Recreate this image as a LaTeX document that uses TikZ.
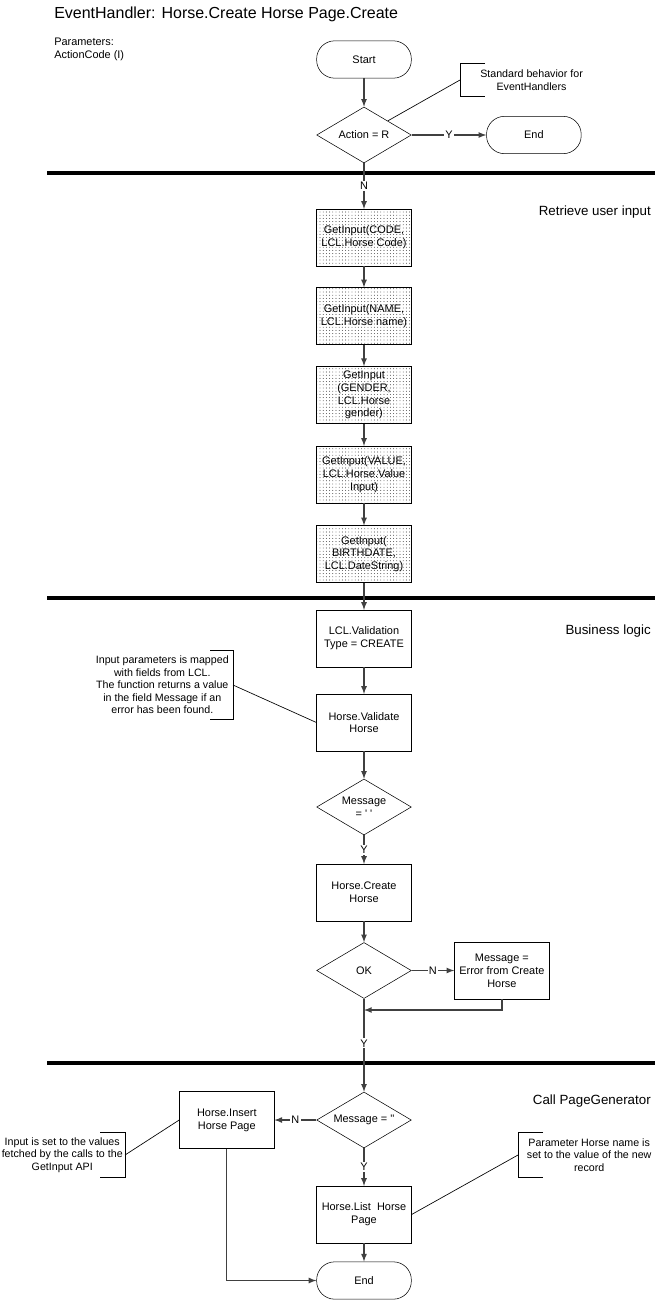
\documentclass[tikz,border=0pt]{standalone}
\usepackage{fontspec}
\setmainfont{Liberation Sans}
\usetikzlibrary{shapes.geometric, arrows, positioning, patterns}
\newcommand\smalltxt{\fontsize{8.2pt}{9.6pt}\selectfont}
\newcommand\notetxt{\fontsize{8pt}{9.4pt}\selectfont}
\newcommand\sectiontxt{\fontsize{10pt}{12pt}\selectfont}
\newcommand\titletxt{\fontsize{12pt}{14pt}\selectfont}
\pgfdeclarepatternformonly{finedots}{\pgfpoint{-0.5pt}{-0.5pt}}{\pgfpoint{0.5pt}{0.5pt}}{\pgfpoint{2.4pt}{2.4pt}}{%
  \pgfpathcircle{\pgfpointorigin}{0.32pt}\pgfusepath{fill}}
\tikzstyle{terminal} = [rectangle, rounded corners=13.5pt, minimum width=71pt, minimum height=28pt, text centered, draw=black, fill=white]
\tikzstyle{process} = [rectangle, minimum width=71pt, minimum height=42.5pt, inner xsep=2pt, align=center, draw=black, fill=white]
\tikzstyle{inputbox} = [rectangle, minimum width=71pt, minimum height=42.5pt, inner xsep=2pt, align=center, draw=black, pattern=finedots]
\tikzstyle{decision} = [diamond, shape aspect=1.7, minimum width=71pt, minimum height=42pt, inner sep=0pt, align=center, draw=black, fill=white]
\tikzstyle{note} = [align=center, minimum height=33pt, font=\notetxt]
\tikzstyle{section} = [anchor=east, inner sep=0pt, font=\sectiontxt]
\tikzstyle{sepline} = [line width=3pt]
\tikzstyle{noteline} = [line width=0.5pt]
\tikzstyle{lbl} = [fill=white, inner sep=1pt]
\tikzstyle{arrow} = [line width=1pt, draw=black!75, ->, >=latex]

\begin{document}
\begin{tikzpicture}[x=0.75pt, y=-0.75pt, font=\smalltxt]
    \useasboundingbox (0,0) rectangle (655,1300);

    % Headings
    \node (title) [anchor=west, inner sep=0pt, font=\titletxt] at (54,14) {EventHandler: Horse.Create Horse Page.Create};
    \node (params) [anchor=north west, align=left, inner sep=0pt] at (54,38) {Parameters:\\ActionCode (I)};
    \node (retrieve) [section] at (651,212) {Retrieve user input};
    \node (business) [section] at (651,631) {Business logic};
    \node (pagegen) [section] at (651,1101) {Call PageGenerator};

    % Separators
    \draw [sepline] (47,173) -- (655,173);
    \draw [sepline] (47,598) -- (655,598);
    \draw [sepline] (47,1063) -- (655,1063);

    % Nodes
    \node (start) [terminal] at (364,59.5) {Start};
    \node (action) [decision] at (364,135) {Action = R};
    \node (endtop) [terminal, right=56pt of action] {End};
    \node (code) [inputbox] at (364,237.5) {GetInput(CODE,\\LCL.Horse Code)};
    \node (name) [inputbox] at (364,316) {GetInput(NAME,\\LCL.Horse name)};
    \node (gender) [inputbox] at (364,395) {GetInput\\(GENDER,\\LCL.Horse\\gender)};
    \node (value) [inputbox] at (364,474.5) {GetInput(VALUE,\\LCL.Horse.Value\\Input)};
    \node (birthdate) [inputbox] at (364,554) {GetInput(\\BIRTHDATE,\\LCL.DateString)};
    \node (validtype) [process] at (364,638.5) {LCL.Validation\\Type = CREATE};
    \node (validate) [process] at (364,722.5) {Horse.Validate\\Horse};
    \node (msgcheck) [decision] at (364,807) {Message\\= \textquotesingle\ \textquotesingle};
    \node (create) [process] at (364,892.5) {Horse.Create\\Horse};
    \node (okcheck) [decision] at (364,970.5) {OK};
    \node (errmsg) [process, right=32pt of okcheck] {Message =\\Error from Create\\Horse};
    \node (msgpage) [decision] at (364,1120) {Message = \textquotesingle\textquotesingle};
    \node (insert) [process, left=31.5pt of msgpage] {Horse.Insert\\Horse Page};
    \node (list) [process] at (364,1214.5) {Horse.List\ \ Horse\\Page};
    \node (endbot) [terminal] at (364,1280.5) {End};
    \coordinate (join) at (364,1010);

    % Notes
    \node (stdnote) [note, anchor=west, minimum height=24pt, inner xsep=15pt] at (460,80) {Standard behavior for\\EventHandlers};
    \node (mapnote) [note, anchor=east, minimum height=51pt, inner xsep=3pt] at (233,685) {Input parameters is mapped\\with fields from LCL.\\The function returns a value\\in the field Message if an\\error has been found.};
    \node (inputnote) [note, anchor=east, inner xsep=1.5pt] at (125,1155) {Input is set to the values\\fetched by the calls to the\\GetInput API};
    \node (namenote) [note, anchor=west, inner xsep=6.5pt] at (518,1155) {Parameter Horse name is\\set to the value of the new\\record};
    \draw ([xshift=18.75pt]stdnote.north west) -- (stdnote.north west) -- (stdnote.south west) -- ([xshift=18.75pt]stdnote.south west);
    \draw ([xshift=-17pt]mapnote.north east) -- (mapnote.north east) -- (mapnote.south east) -- ([xshift=-17pt]mapnote.south east);
    \draw ([xshift=-18.75pt]inputnote.north east) -- (inputnote.north east) -- (inputnote.south east) -- ([xshift=-18.75pt]inputnote.south east);
    \draw ([xshift=18.75pt]namenote.north west) -- (namenote.north west) -- (namenote.south west) -- ([xshift=18.75pt]namenote.south west);
    \draw [noteline] (action.north east) -- (stdnote.west);
    \draw [noteline] (mapnote.east) -- (validate.west);
    \draw [noteline] (inputnote.east) -- (insert.west);
    \draw [noteline] (list.east) -- (namenote.west);

    % Arrows
    \draw [arrow] (start) -- (action);
    \draw [arrow] (action) -- node[lbl] {Y} (endtop);
    \draw [arrow] (action) -- node[lbl] {N} (code);
    \draw [arrow] (code) -- (name);
    \draw [arrow] (name) -- (gender);
    \draw [arrow] (gender) -- (value);
    \draw [arrow] (value) -- (birthdate);
    \draw [arrow] (birthdate) -- (validtype);
    \draw [arrow] (validtype) -- (validate);
    \draw [arrow] (validate) -- (msgcheck);
    \draw [arrow] (msgcheck) -- node[lbl] {Y} (create);
    \draw [arrow] (create) -- (okcheck);
    \draw [arrow] (okcheck) -- node[lbl] {N} (errmsg);
    \draw [arrow] (errmsg.south) |- (join);
    \draw [arrow] (okcheck) -- node[lbl, pos=0.48] {Y} (msgpage);
    \draw [arrow] (msgpage) -- node[lbl] {N} (insert);
    \draw [arrow] (msgpage) -- node[lbl] {Y} (list);
    \draw [arrow] (list) -- (endbot);
    \draw [arrow] (insert.south) |- (endbot.west);
\end{tikzpicture}
\end{document}
